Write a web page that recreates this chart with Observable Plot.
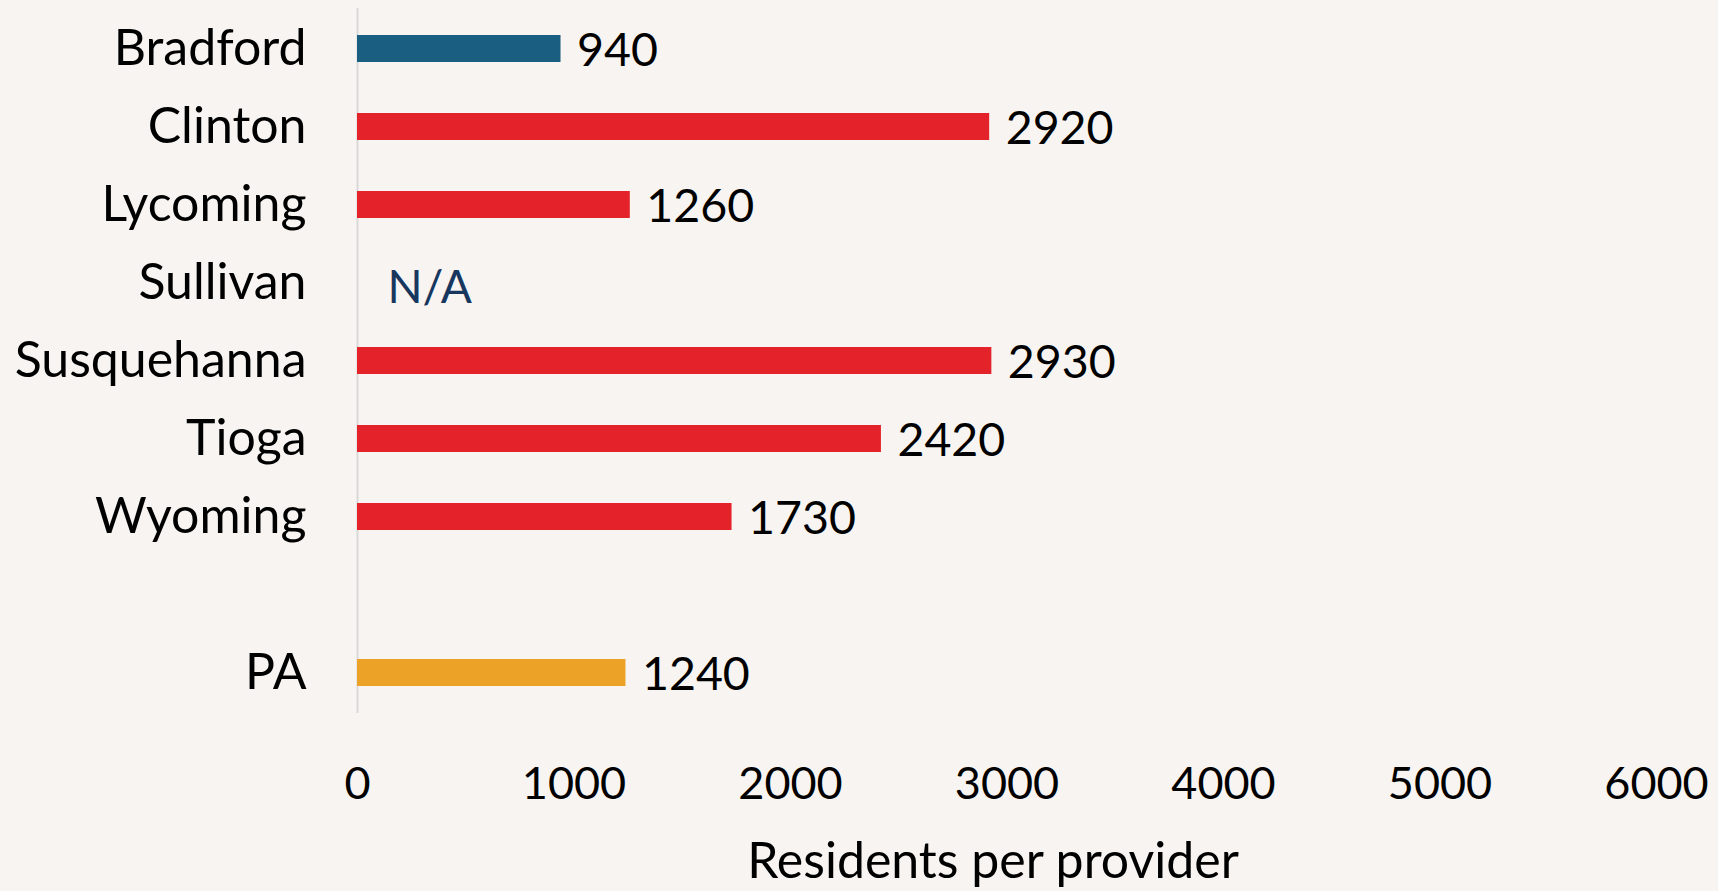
<!DOCTYPE html>
<html>
<head>
<meta charset="utf-8">
<script src="https://cdn.jsdelivr.net/npm/d3@7"></script>
<script src="https://cdn.jsdelivr.net/npm/@observablehq/plot@0.6"></script>
<style>
  html, body { margin: 0; padding: 0; background: #f7f4f1; }
  #chart { width: 1718px; height: 891px; }
</style>
</head>
<body>
<div id="chart"></div>
<script>
const categories = ["Bradford", "Clinton", "Lycoming", "Sullivan", "Susquehanna", "Tioga", "Wyoming", " ", "PA"];
const values = [940, 2920, 1260, null, 2930, 2420, 1730, null, 1240];
const groups = ["county-highlight", "county", "county", "county", "county", "county", "county", "blank", "state"];
const missingLabel = "N/A";
const missingCategory = "Sullivan";
const xTicks = [0, 1000, 2000, 3000, 4000, 5000, 6000];
const xLabel = "Residents per provider";

const colorDomain = ["county-highlight", "county", "state"];
const colorRange = ["#1a5e82", "#e42229", "#eba226"];

const data = categories.map((c, i) => ({name: c, value: values[i], group: groups[i]}));
const withValues = data.filter(d => d.value != null);

const chart = Plot.plot({
  width: 1718,
  height: 891,
  marginLeft: 357,
  marginRight: 62,
  marginTop: 8,
  marginBottom: 178,
  style: {fontFamily: "Lato, 'Open Sans', sans-serif", fontSize: "45px", background: "#f7f4f1", color: "#000"},
  x: {domain: [0, 6000], ticks: xTicks, label: null},
  y: {domain: categories, paddingInner: 0.655, paddingOuter: 0.3275, label: null},
  color: {domain: colorDomain, range: colorRange},
  marks: [
    Plot.ruleX([0], {stroke: "#d9d9d9", strokeWidth: 2}),
    Plot.barX(withValues, {x: "value", y: "name", fill: "group"}),
    Plot.text(withValues, {x: "value", y: "name", text: d => String(d.value), textAnchor: "start", dx: 16, dy: 2, fill: "#000", fontSize: 46.5}),
    Plot.text([missingCategory], {x: () => 0, y: d => d, text: () => missingLabel, textAnchor: "start", dx: 30, dy: 5, fill: "#17375e", fontSize: 46}),
    Plot.axisX({ticks: xTicks, tickSize: 0, tickPadding: 54, label: null, tickFormat: d => String(d)}),
    Plot.text([xLabel], {frameAnchor: "bottom", text: d => d, lineAnchor: "middle", dy: 148, dx: -14, fontSize: 50, fill: "#000"}),
    Plot.axisY({tickSize: 0, tickPadding: 51, tickFormat: d => d.trim() === "" ? "" : d, label: null, fontSize: 50})
  ]
});
document.getElementById("chart").appendChild(chart);
</script>
</body>
</html>
